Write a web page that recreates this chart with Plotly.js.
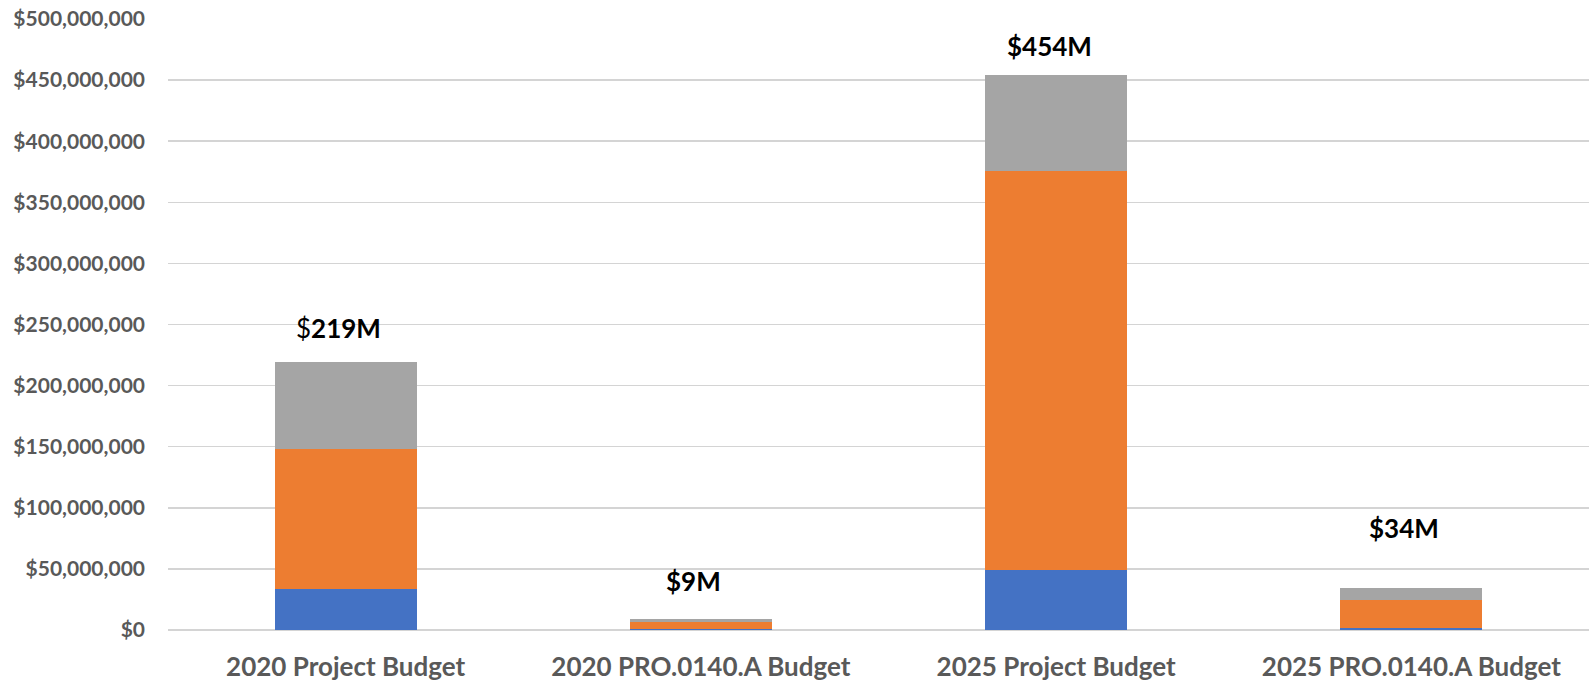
<!DOCTYPE html>
<html>
<head>
<meta charset="utf-8">
<script src="https://cdn.plot.ly/plotly-3.0.1.min.js"></script>
<style>html,body{margin:0;padding:0;background:#fff;}#chart{width:1589px;height:685px;}</style>
</head>
<body>
<div id="chart"></div>
<script>
// Categories and series values (US dollars)
const categories = ["2020 Project Budget", "2020 PRO.0140.A Budget", "2025 Project Budget", "2025 PRO.0140.A Budget"];
const seriesBlue   = [33700000, 1200000, 48700000, 1600000];
const seriesOrange = [114800000, 5300000, 326700000, 22900000];
const seriesGrey   = [70500000, 2300000, 78600000, 9500000];
const totalLabels  = ["<span style='font-weight:normal'>$</span>219M", "$9M", "$454M", "$34M"];
const labelY       = [247500000, 40000000, 477700000, 83600000];

const font = "Lato, 'Open Sans', sans-serif";

const traces = [
  {name: "Series1", values: seriesBlue, color: "#4472C4"},
  {name: "Series2", values: seriesOrange, color: "#ED7D31"},
  {name: "Series3", values: seriesGrey, color: "#A5A5A5"}
].map(s => ({
  type: "bar",
  name: s.name,
  x: categories,
  y: s.values,
  marker: {color: s.color, line: {width: 0}},
  hoverinfo: "x+y+name"
}));

const annotations = categories.map((c, i) => ({
  x: c, y: labelY[i], xref: "x", yref: "y",
  text: "<b>" + totalLabels[i] + "</b>",
  showarrow: false, xshift: -7,
  font: {family: font, size: 26, color: "#000000"}
}));

const layout = {
  width: 1589, height: 685,
  margin: {l: 168, r: 0, t: 19, b: 55, pad: 0},
  barmode: "stack",
  bargap: 0.6,
  showlegend: false,
  paper_bgcolor: "#ffffff",
  plot_bgcolor: "#ffffff",
  font: {family: font, color: "#595959"},
  xaxis: {
    type: "category",
    showgrid: false, zeroline: false, showline: false,
    ticks: "", ticklabelstandoff: 19,
    tickfont: {family: font, size: 26, color: "#595959", weight: "bold"}
  },
  yaxis: {
    range: [0, 500000000], dtick: 50000000, tick0: 0,
    tickprefix: "$", tickformat: ",d",
    showgrid: true, gridcolor: "#d4d4d4", gridwidth: 1.5,
    zeroline: true, zerolinecolor: "#d4d4d4", zerolinewidth: 1.5,
    showline: false, ticks: "", ticklabelstandoff: 22,
    tickfont: {family: font, size: 21, color: "#595959", weight: "bold"}
  },
  annotations: annotations
};

Plotly.newPlot("chart", traces, layout, {displayModeBar: false, staticPlot: true});
</script>
</body>
</html>
